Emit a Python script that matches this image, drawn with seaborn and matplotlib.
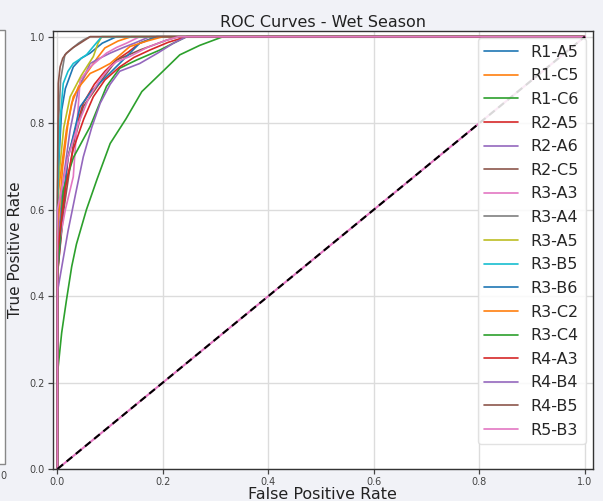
import numpy as np
import pandas as pd
import matplotlib
matplotlib.use("Agg")
import matplotlib.pyplot as plt
import seaborn as sns
from matplotlib.patches import Rectangle

# ROC curves per station (false positive rate, true positive rate)
models = ["R1-A5", "R1-C5", "R1-C6", "R2-A5", "R2-A6", "R2-C5", "R3-A3", "R3-A4", "R3-A5",
          "R3-B5", "R3-B6", "R3-C2", "R3-C4", "R4-A3", "R4-B4", "R4-B5", "R5-B3"]

fpr_r1_a5 = [0, 0, 0.003, 0.008, 0.015, 0.03, 0.045, 0.062, 0.085, 0.112, 1]
tpr_r1_a5 = [0, 0.55, 0.72, 0.83, 0.88, 0.93, 0.95, 0.962, 0.985, 1, 1]

fpr_r1_c5 = [0, 0, 0.002, 0.017, 0.027, 0.04, 0.055, 0.075, 0.09, 0.115, 0.14, 1]
tpr_r1_c5 = [0, 0.5, 0.645, 0.784, 0.846, 0.885, 0.915, 0.95, 0.974, 0.99, 1, 1]

fpr_r1_c6 = [0, 0, 0.008, 0.017, 0.027, 0.036, 0.055, 0.075, 0.1, 0.13, 0.16, 0.2, 0.232, 0.27, 0.314, 1]
tpr_r1_c6 = [0, 0.22, 0.315, 0.39, 0.468, 0.52, 0.6, 0.67, 0.753, 0.81, 0.873, 0.92, 0.958, 0.98, 1, 1]

fpr_r2_a5 = [0, 0, 0.01, 0.02, 0.035, 0.049, 0.07, 0.09, 0.112, 0.135, 0.156, 0.188, 1]
tpr_r2_a5 = [0, 0.45, 0.584, 0.722, 0.79, 0.846, 0.89, 0.92, 0.946, 0.965, 0.985, 1, 1]

fpr_r2_a6 = [0, 0, 0.01, 0.024, 0.04, 0.062, 0.08, 0.1, 0.125, 0.146, 0.175, 1]
tpr_r2_a6 = [0, 0.5, 0.66, 0.784, 0.88, 0.938, 0.95, 0.962, 0.975, 0.985, 1, 1]

fpr_r2_c5 = [0, 0, 0.012, 0.03, 0.049, 0.07, 0.09, 0.112, 0.135, 0.156, 0.185, 0.207, 0.23, 1]
tpr_r2_c5 = [0, 0.45, 0.6, 0.75, 0.838, 0.875, 0.91, 0.946, 0.958, 0.969, 0.982, 0.992, 1, 1]

fpr_r3_a3 = [0, 0, 0.015, 0.03, 0.043, 0.062, 0.093, 0.112, 0.131, 0.156, 1]
tpr_r3_a3 = [0, 0.5, 0.6, 0.676, 0.9, 0.93, 0.962, 0.975, 0.985, 1, 1]

fpr_r3_a4 = [0, 0, 0.002, 0.006, 0.014, 0.025, 0.04, 0.05, 0.062, 1]
tpr_r3_a4 = [0, 0.6, 0.8, 0.9, 0.958, 0.97, 0.985, 0.993, 1, 1]

fpr_r3_a5 = [0, 0, 0.002, 0.012, 0.024, 0.045, 0.068, 0.077, 0.084, 1]
tpr_r3_a5 = [0, 0.55, 0.668, 0.79, 0.861, 0.91, 0.954, 0.985, 1, 1]

fpr_r3_b5 = [0, 0, 0.002, 0.005, 0.011, 0.02, 0.03, 0.055, 0.07, 0.084, 1]
tpr_r3_b5 = [0, 0.6, 0.7, 0.807, 0.892, 0.92, 0.938, 0.958, 0.98, 1, 1]

fpr_r3_b6 = [0, 0, 0.01, 0.02, 0.043, 0.065, 0.093, 0.131, 0.156, 0.188, 1]
tpr_r3_b6 = [0, 0.45, 0.62, 0.72, 0.838, 0.875, 0.908, 0.954, 0.985, 1, 1]

fpr_r3_c2 = [0, 0, 0.01, 0.02, 0.03, 0.045, 0.062, 0.08, 0.1, 0.137, 0.17, 0.2, 1]
tpr_r3_c2 = [0, 0.55, 0.7, 0.8, 0.861, 0.89, 0.915, 0.925, 0.938, 0.977, 0.99, 1, 1]

fpr_r3_c4 = [0, 0, 0.011, 0.03, 0.062, 0.093, 0.118, 0.15, 0.194, 0.22, 0.245, 1]
tpr_r3_c4 = [0, 0.45, 0.645, 0.72, 0.792, 0.885, 0.927, 0.946, 0.969, 0.985, 1, 1]

fpr_r4_a3 = [0, 0, 0.015, 0.03, 0.05, 0.068, 0.09, 0.118, 0.145, 0.175, 0.21, 0.245, 1]
tpr_r4_a3 = [0, 0.5, 0.65, 0.74, 0.81, 0.861, 0.9, 0.93, 0.952, 0.969, 0.987, 1, 1]

fpr_r4_b4 = [0, 0, 0.02, 0.035, 0.049, 0.065, 0.081, 0.1, 0.118, 0.156, 0.19, 0.22, 0.245, 1]
tpr_r4_b4 = [0, 0.41, 0.55, 0.64, 0.722, 0.79, 0.846, 0.89, 0.92, 0.938, 0.962, 0.985, 1, 1]

fpr_r4_b5 = [0, 0, 0.0016, 0.005, 0.01, 0.017, 0.03, 0.043, 0.062, 1]
tpr_r4_b5 = [0, 0.65, 0.892, 0.93, 0.95, 0.962, 0.975, 0.985, 1, 1]

fpr_r5_b3 = [0, 0, 0.02, 0.04, 0.06, 0.08, 0.1, 0.112, 0.137, 0.17, 0.207, 0.23, 1]
tpr_r5_b3 = [0, 0.6, 0.72, 0.8, 0.86, 0.9, 0.93, 0.942, 0.954, 0.975, 0.992, 1, 1]

curves = {
    "R1-A5": (fpr_r1_a5, tpr_r1_a5), "R1-C5": (fpr_r1_c5, tpr_r1_c5), "R1-C6": (fpr_r1_c6, tpr_r1_c6),
    "R2-A5": (fpr_r2_a5, tpr_r2_a5), "R2-A6": (fpr_r2_a6, tpr_r2_a6), "R2-C5": (fpr_r2_c5, tpr_r2_c5),
    "R3-A3": (fpr_r3_a3, tpr_r3_a3), "R3-A4": (fpr_r3_a4, tpr_r3_a4), "R3-A5": (fpr_r3_a5, tpr_r3_a5),
    "R3-B5": (fpr_r3_b5, tpr_r3_b5), "R3-B6": (fpr_r3_b6, tpr_r3_b6), "R3-C2": (fpr_r3_c2, tpr_r3_c2),
    "R3-C4": (fpr_r3_c4, tpr_r3_c4), "R4-A3": (fpr_r4_a3, tpr_r4_a3), "R4-B4": (fpr_r4_b4, tpr_r4_b4),
    "R4-B5": (fpr_r4_b5, tpr_r4_b5), "R5-B3": (fpr_r5_b3, tpr_r5_b3),
}

rows = []
for m in models:
    f, t = curves[m]
    for i, (a, b) in enumerate(zip(f, t)):
        rows.append({"model": m, "order": i, "fpr": a, "tpr": b})
df = pd.DataFrame(rows)

sns.set_style("whitegrid")
plt.rcParams["font.family"] = ["DejaVu Sans"]

bg = "#f1f2f7"
fig = plt.figure(figsize=(6.03, 5.01), dpi=100, facecolor=bg)
ax = fig.add_axes([0.0874, 0.0639, 0.8956, 0.8741])
ax.set_facecolor("white")

palette = [sns.color_palette("tab10")[i % 10] for i in range(len(models))]
sns.lineplot(data=df, x="fpr", y="tpr", hue="model", hue_order=models, palette=palette,
             estimator=None, sort=False, units="model", linewidth=1.2, ax=ax, legend=True)

# chance diagonal
ax.plot([0, 1], [0, 1], color="#e377c2", lw=1.5)
ax.plot([0, 1], [0, 1], color="black", ls=(0, (3.5, 2.2)), lw=1.5)

ax.set_xlim(-0.009, 1.015)
ax.set_ylim(0, 1.013)
ticks = [0.0, 0.2, 0.4, 0.6, 0.8, 1.0]
ax.set_xticks(ticks)
ax.set_yticks(ticks)
ax.set_xticklabels([f"{v:.1f}" for v in ticks])
ax.set_yticklabels([f"{v:.1f}" for v in ticks])
ax.tick_params(axis="both", labelsize=7, colors="#444444", length=3.5, width=0.9,
               direction="out", left=True, bottom=True, pad=2)
ax.grid(True, color="#dcdcdc", linewidth=1.0)
for s in ax.spines.values():
    s.set_color("#333333")
    s.set_linewidth(1.0)

ax.set_title("ROC Curves - Wet Season", fontsize=11.5, color="#222222", pad=3)
ax.set_xlabel("False Positive Rate", fontsize=11.5, color="#222222", labelpad=0)
ax.set_ylabel("True Positive Rate", fontsize=11, color="#222222", labelpad=5)

handles, labels = ax.get_legend_handles_labels()
ax.legend(handles[:len(models)], labels[:len(models)], loc="upper right", fontsize=11.5,
          frameon=True, framealpha=0.85, edgecolor="#dddddd", borderpad=0.4,
          labelspacing=0.54, handlelength=2.1, borderaxespad=0.45)

# frame edge of the neighbouring panel
fig.patches.append(Rectangle((-20 / 603, 1 - 464 / 501), 25 / 603, 434 / 501,
                             transform=fig.transFigure, facecolor="white",
                             edgecolor="#888888", lw=1.0))
fig.text(0.5 / 603, 1 - 476 / 501, "0", fontsize=7, color="#444444", ha="left", va="center")

fig.savefig("out.png", dpi=100, facecolor=bg)
